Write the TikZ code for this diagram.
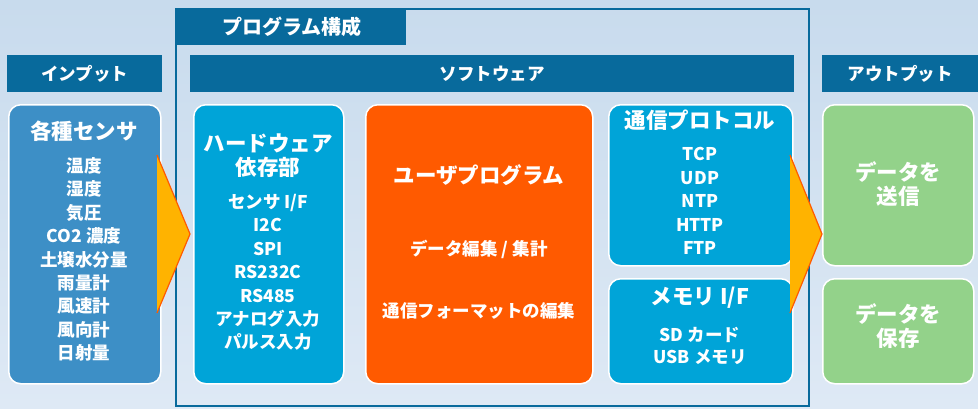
\documentclass[tikz,border=0pt]{standalone}
\usepackage{fontspec}
\setmainfont{Noto Sans CJK JP}
\definecolor{bgtop}{HTML}{C8DBED}
\definecolor{bgbot}{HTML}{DEE9F5}
\definecolor{darkblue}{HTML}{086A9C}
\definecolor{inblue}{HTML}{3D8FC6}
\definecolor{hwblue}{HTML}{00A4D8}
\definecolor{userorange}{HTML}{FF5A00}
\definecolor{outgreen}{HTML}{93D28A}
\definecolor{amber}{HTML}{FFB300}
\tikzset{
  hdr/.style={fill=darkblue, text=white, font=\bfseries\fontsize{17.5}{20}\selectfont, inner sep=0pt, anchor=north west},
  rbox/.style={draw=white, line width=1.5pt, rounded corners=12pt, inner sep=0pt, anchor=north west},
  ttl/.style={text=white, font=\bfseries\fontsize{21.5}{25}\selectfont, align=center},
  lst/.style={text=white, font=\bfseries\fontsize{17.5}{23.4}\selectfont, align=center},
}
\begin{document}
\begin{tikzpicture}[x=1pt,y=-1pt]
\shade[top color=bgtop, bottom color=bgbot] (0,0) rectangle (978,408);
\useasboundingbox (0,0) rectangle (978,408);
% program frame
\draw[darkblue, line width=2pt] (176,9) rectangle (809,406);
\node[fill=darkblue, anchor=north west, minimum width=230pt, minimum height=36pt, inner sep=0pt] (tab) at (176,9) {};
\node[ttl, font=\bfseries\fontsize{20}{24}\selectfont] (tabtxt) at (292,27) {プログラム構成};
% headers
\node[hdr, minimum width=155pt, minimum height=37pt] (inhdr) at (7,55) {インプット};
\node[hdr, minimum width=604pt, minimum height=37pt] (swhdr) at (190,55) {ソフトウェア};
\node[hdr, minimum width=156pt, minimum height=37pt] (outhdr) at (822,55) {アウトプット};
% boxes
\node[rbox, fill=inblue, minimum width=152pt, minimum height=279pt] (inbox) at (8,104) {};
\node[rbox, fill=hwblue, minimum width=150pt, minimum height=279pt] (hwbox) at (193,104) {};
\node[rbox, fill=userorange, minimum width=227pt, minimum height=279pt] (userbox) at (365,104) {};
\node[rbox, fill=hwblue, minimum width=184pt, minimum height=161pt] (commbox) at (608,104) {};
\node[rbox, fill=hwblue, minimum width=184pt, minimum height=105pt] (membox) at (608,278) {};
\node[rbox, fill=outgreen, minimum width=151pt, minimum height=161pt] (sendbox) at (822,104) {};
\node[rbox, fill=outgreen, minimum width=151pt, minimum height=105pt] (savebox) at (822,278) {};
% arrows
\coordinate (a1t) at (157,155);
\coordinate (a1p) at (190,234);
\coordinate (a1b) at (157,313);
\fill[amber] (a1t) -- (a1p) -- (a1b) -- cycle;
\draw[userorange, line width=1.2pt] (a1t) -- (a1p) -- (a1b);
\coordinate (a2t) at (790,155);
\coordinate (a2p) at (822,234);
\coordinate (a2b) at (790,313);
\fill[amber] (a2t) -- (a2p) -- (a2b) -- cycle;
\draw[userorange, line width=1.2pt] (a2t) -- (a2p) -- (a2b);
% input texts
\node[ttl] (inttl) at (84,131) {各種センサ};
\node[lst] (inlist) at (84,259.5) {温度\\湿度\\気圧\\CO2 濃度\\土壌水分量\\雨量計\\風速計\\風向計\\日射量};
% hardware
\node[ttl, font=\bfseries\fontsize{21.5}{24}\selectfont] (hwttl) at (268,156) {ハードウェア\\依存部};
\node[lst] (hwlist) at (268,272.5) {センサ I/F\\I2C\\SPI\\RS232C\\RS485\\アナログ入力\\パルス入力};
% user program
\node[ttl] (userttl) at (479,175) {ユーザプログラム};
\node[lst] (user1) at (479,249) {データ編集 / 集計};
\node[lst] (user2) at (479,311) {通信フォーマットの編集};
% comm
\node[ttl] (commttl) at (700,120) {通信プロトコル};
\node[lst] (commlist) at (700,201) {TCP\\UDP\\NTP\\HTTP\\FTP};
% memory
\node[ttl] (memttl) at (700,298) {メモリ I/F};
\node[lst, font=\bfseries\fontsize{17.5}{22.5}\selectfont] (memlist) at (700,346) {SD カード\\USB メモリ};
% output
\node[ttl, font=\bfseries\fontsize{21.5}{24}\selectfont] (sendtxt) at (898,184) {データを\\送信};
\node[ttl, font=\bfseries\fontsize{21.5}{24}\selectfont] (savetxt) at (898,326) {データを\\保存};
\end{tikzpicture}
\end{document}
